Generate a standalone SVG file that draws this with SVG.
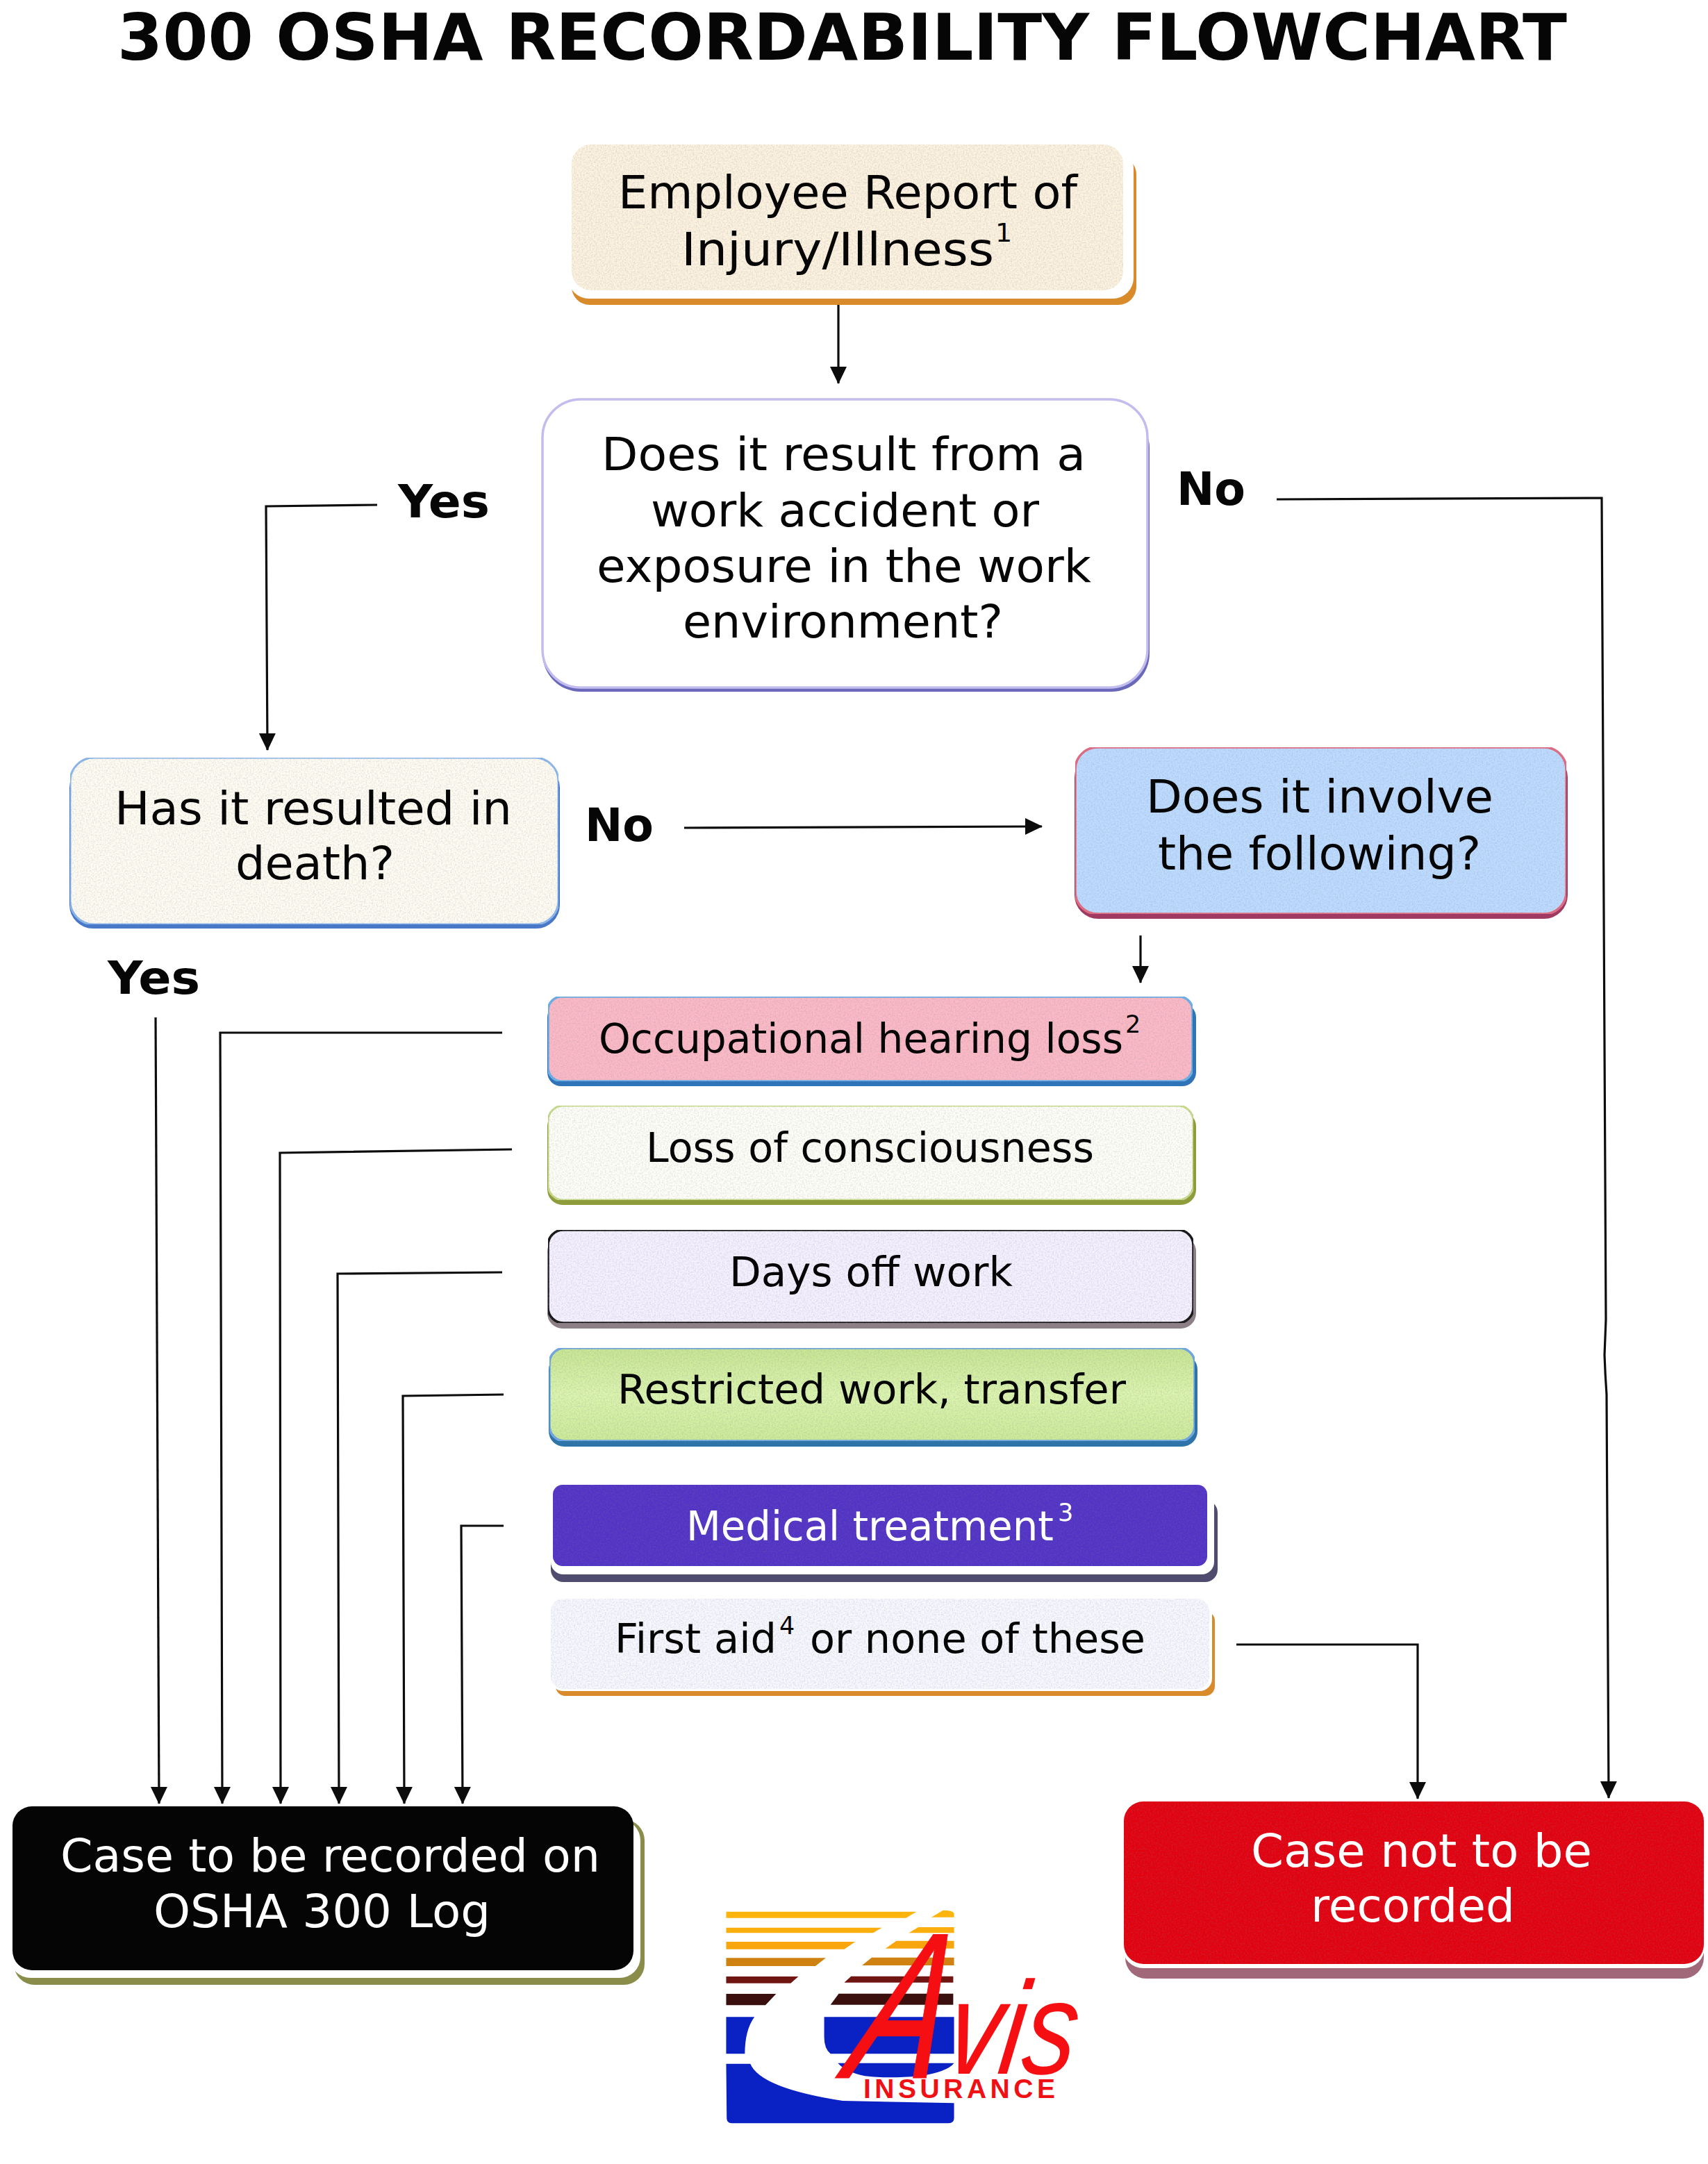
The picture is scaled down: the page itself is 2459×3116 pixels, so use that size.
<svg xmlns="http://www.w3.org/2000/svg" width="2459" height="3116" viewBox="0 0 2459 3116">
<style>
text{font-family:"DejaVu Sans","Verdana",sans-serif;font-size:66px;fill:#060606}
.b{font-weight:700}
.w{fill:#fff}
.s{font-size:35px}
.m{font-size:59px}
.c{fill:none;stroke:#0c0c0c;stroke-width:3.2}
.g{fill:#fff}
.t{filter:url(#grain)}
</style>
<defs>
<marker id="a" markerUnits="userSpaceOnUse" markerWidth="26" markerHeight="26" refX="24" refY="12.5" orient="auto"><path d="M0 0.5L25 12.5L0 24.5Z" fill="#0c0c0c"/></marker>
<filter id="grain" x="0" y="0" width="1" height="1" color-interpolation-filters="sRGB">
<feTurbulence type="fractalNoise" baseFrequency=".45" numOctaves="3" seed="4" result="n"/>
<feColorMatrix in="n" type="matrix" values="0 0 0 0 .5  0 0 0 0 .5  0 0 0 0 .6  .45 0 0 0 -.17" result="d"/>
<feComposite in="d" in2="SourceGraphic" operator="in" result="m"/>
<feMerge><feMergeNode in="SourceGraphic"/><feMergeNode in="m"/></feMerge>
</filter>
<linearGradient id="gr" x1="0" y1="0" x2="0" y2="1"><stop offset="0" stop-color="#c8e692"/><stop offset=".5" stop-color="#dcf5ae"/><stop offset="1" stop-color="#cceb98"/></linearGradient>
</defs>
<rect width="2459" height="3116" fill="#fff"/>
<text id="title" class="b" x="169" y="86" style="font-size:92px" textLength="2087" lengthAdjust="spacingAndGlyphs">300 OSHA RECORDABILITY FLOWCHART</text>

<g id="connectors" class="c">
<path d="M1207 432V552" marker-end="url(#a)"/>
<path d="M543 727L383 729L385 1080" marker-end="url(#a)"/>
<path d="M1838 719L2306 717L2312 1900L2310 1951Q2311 1980 2313 2008L2316 2589" marker-end="url(#a)"/>
<path d="M985 1192L1500 1190" marker-end="url(#a)"/>
<path d="M1642 1347V1415" marker-end="url(#a)"/>
<path d="M224 1465L229 2597" marker-end="url(#a)"/>
<path d="M723 1487H317L320 2597" marker-end="url(#a)"/>
<path d="M737 1655L403 1660L404 2597" marker-end="url(#a)"/>
<path d="M723 1832L486 1834L488 2597" marker-end="url(#a)"/>
<path d="M725 2008L580 2010L582 2597" marker-end="url(#a)"/>
<path d="M725 2197H664L666 2597" marker-end="url(#a)"/>
<path d="M1780 2368H2041V2590" marker-end="url(#a)"/>
</g>

<g id="labels">
<text class="b" x="573" y="745" textLength="132" lengthAdjust="spacingAndGlyphs">Yes</text>
<text class="b" x="1694" y="727" textLength="99" lengthAdjust="spacingAndGlyphs">No</text>
<text class="b" x="842" y="1211" textLength="99" lengthAdjust="spacingAndGlyphs">No</text>
<text class="b" x="155" y="1431" textLength="133" lengthAdjust="spacingAndGlyphs">Yes</text>
</g>

<g id="n1">
<rect x="823" y="225" width="813" height="214" rx="26" fill="#d98a2b"/>
<rect x="818" y="212" width="814" height="218" rx="30" class="g"/>
<rect class="t" x="823" y="208" width="794" height="210" rx="28" fill="#fdf3df"/>
<text x="890" y="300" textLength="661" lengthAdjust="spacingAndGlyphs">Employee Report of</text>
<text y="382"><tspan x="981" textLength="450" lengthAdjust="spacingAndGlyphs">Injury/Illness</tspan><tspan x="1433" dy="-34" style="font-size:38px">1</tspan></text>
</g>

<g id="n2">
<rect x="781" y="590" width="874" height="406" rx="55" fill="#6a68b8"/>
<rect x="781" y="575" width="871" height="415" rx="55" fill="#fff" stroke="#c2bdee" stroke-width="3.5"/>
<text x="866" y="677" textLength="697" lengthAdjust="spacingAndGlyphs">Does it result from a</text>
<text x="937" y="758" textLength="559" lengthAdjust="spacingAndGlyphs">work accident or</text>
<text x="859" y="838" textLength="712" lengthAdjust="spacingAndGlyphs">exposure in the work</text>
<text x="983" y="918" textLength="461" lengthAdjust="spacingAndGlyphs">environment?</text>
</g>

<g id="n3">
<rect x="100" y="1100" width="706" height="237" rx="34" fill="#4a78c8"/>
<rect class="t" x="101" y="1091" width="703" height="240" rx="34" fill="#fffdf2" stroke="#8cb8ec" stroke-width="3"/>
<text x="165" y="1187" textLength="572" lengthAdjust="spacingAndGlyphs">Has it resulted in</text>
<text x="339" y="1266" textLength="229" lengthAdjust="spacingAndGlyphs">death?</text>
</g>

<g id="n4">
<rect x="1547" y="1085" width="710" height="238" rx="34" fill="#a03a62"/>
<rect class="t" x="1548" y="1076" width="707" height="240" rx="32" fill="#bddcff" stroke="#e26c82" stroke-width="3.5"/>
<text x="1650" y="1170" textLength="500" lengthAdjust="spacingAndGlyphs">Does it involve</text>
<text x="1667" y="1252" textLength="465" lengthAdjust="spacingAndGlyphs">the following?</text>
</g>

<g id="n5">
<rect x="788" y="1445" width="934" height="119" rx="20" fill="#2f74b8"/>
<rect class="t" x="789" y="1435" width="928" height="122" rx="20" fill="#fcbac6" stroke="#6cb0e6" stroke-width="3.5"/>
<text class="m" y="1516"><tspan x="862" textLength="755" lengthAdjust="spacingAndGlyphs">Occupational hearing loss</tspan><tspan x="1620" dy="-29" class="s">2</tspan></text>
</g>

<g id="n6">
<rect x="788" y="1600" width="934" height="135" rx="22" fill="#8f9c3c"/>
<rect class="t" x="789" y="1592" width="929" height="136" rx="22" fill="#fffff8" stroke="#c9dc8c" stroke-width="3"/>
<text class="m" x="930" y="1673" textLength="645" lengthAdjust="spacingAndGlyphs">Loss of consciousness</text>
</g>

<g id="n7">
<rect x="788" y="1780" width="934" height="133" rx="22" fill="#8c7f86"/>
<rect class="t" x="789" y="1771" width="929" height="134" rx="22" fill="#f6f1ff" stroke="#151515" stroke-width="3.5"/>
<text class="m" x="1050" y="1852" textLength="408" lengthAdjust="spacingAndGlyphs">Days off work</text>
</g>

<g id="n8">
<rect x="790" y="1950" width="934" height="133" rx="22" fill="#2f74a8"/>
<rect class="t" x="791" y="1941" width="929" height="134" rx="22" fill="url(#gr)" stroke="#6fa8e2" stroke-width="3.5"/>
<text class="m" x="889" y="2021" textLength="732" lengthAdjust="spacingAndGlyphs">Restricted work, transfer</text>
</g>

<g id="n9">
<rect x="793" y="2160" width="960" height="118" rx="18" fill="#4f4c70"/>
<rect x="793" y="2148" width="955" height="119" rx="18" fill="#fff"/>
<rect class="t" x="796" y="2138" width="942" height="117" rx="14" fill="#5233c6"/>
<text class="m w" y="2218"><tspan class="w" x="988" textLength="529" lengthAdjust="spacingAndGlyphs">Medical treatment</tspan><tspan class="w s" x="1523" dy="-28">3</tspan></text>
</g>

<g id="n10">
<rect x="800" y="2320" width="949" height="122" rx="14" fill="#d98a2b"/>
<rect x="793" y="2302" width="952" height="133" rx="18" fill="#fff"/>
<rect class="t" x="793" y="2302" width="948" height="130" rx="18" fill="#f8f9ff"/>
<text class="m" y="2380"><tspan x="885" textLength="233" lengthAdjust="spacingAndGlyphs">First aid</tspan><tspan class="s" x="1122" dy="-27">4</tspan><tspan x="1166" dy="27" textLength="483" lengthAdjust="spacingAndGlyphs">or none of these</tspan></text>
</g>

<g id="n11">
<rect x="20" y="2620" width="908" height="238" rx="30" fill="#8a8c4a"/>
<rect x="14" y="2620" width="908" height="228" rx="30" fill="#fff"/>
<rect x="18" y="2601" width="894" height="236" rx="28" fill="#050505"/>
<text class="w" x="87" y="2695" textLength="777" lengthAdjust="spacingAndGlyphs">Case to be recorded on</text>
<text class="w" x="221" y="2775" textLength="485" lengthAdjust="spacingAndGlyphs">OSHA 300 Log</text>
</g>

<g id="n12">
<rect x="1620" y="2640" width="833" height="209" rx="30" fill="#a06878"/>
<rect x="1616" y="2620" width="838" height="214" rx="30" fill="#fff"/>
<rect class="t" x="1618" y="2594" width="835" height="234" rx="28" fill="#e4000e"/>
<text class="w" x="1801" y="2688" textLength="491" lengthAdjust="spacingAndGlyphs">Case not to be</text>
<text class="w" x="1887" y="2767" textLength="294" lengthAdjust="spacingAndGlyphs">recorded</text>
</g>

<g id="logo">
<g transform="translate(1000 2720) scale(.3953 .3333)">
<path fill="#fdb40c" d="M115 98H808L770 125H115ZM905 92Q940 92 945 105V122H862Z"/>
<path fill="#fcae0c" d="M115 167H682L650 190H115ZM815 165H945V190H780Z"/>
<path fill="#f8a50e" d="M115 228H585L545 260H115ZM735 224H945V257H695Z"/>
<path fill="#cf8212" d="M115 298H478L440 333H115ZM645 296H945V330H610Z"/>
<path fill="#6f1512" d="M115 378H378L350 407H115ZM570 377H942V404H545Z"/>
<path fill="#3b0f0e" d="M115 453H297L258 502H115ZM525 452H942V500H495Z"/>
<path fill="#0a22c4" d="M115 553H218Q183 610 183 712H115ZM472 553H945V712H495Q472 690 472 640ZM115 755H203Q240 860 540 915L945 925V990Q945 1012 925 1012H135Q117 1012 117 990ZM522 752H945Q920 790 820 808Q700 820 620 808Q550 790 522 752Z"/>
</g>
<text transform="translate(1212 2992) skewX(-16) scale(.66 1)" style="font-family:'Liberation Sans',sans-serif;font-style:italic;font-size:300px;fill:#f50f12;stroke:#f50f12;stroke-width:1">A</text>
<text transform="translate(1358 2986) skewX(-8) scale(.8 1)" style="font-family:'Liberation Sans',sans-serif;font-style:italic;font-size:190px;fill:#f50f12">vis</text>
<text x="1243" y="3021" textLength="276" style="font-family:'Liberation Sans',sans-serif;font-weight:700;font-size:39px;fill:#ee1015">INSURANCE</text>
</g>
</svg>
